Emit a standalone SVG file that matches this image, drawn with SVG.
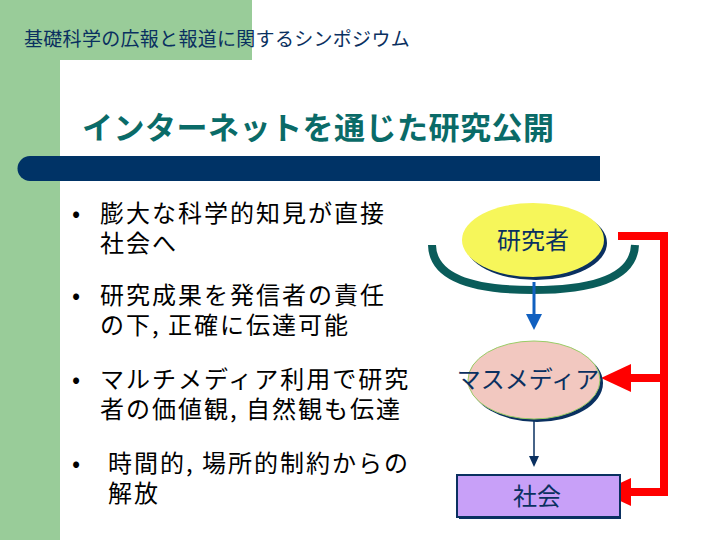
<svg xmlns="http://www.w3.org/2000/svg" width="720" height="540" viewBox="0 0 720 540">
<style>
.jp{font-family:"Noto Sans CJK JP","Liberation Sans",sans-serif}
.b{font-size:24px;fill:#000;letter-spacing:2px}
.n{font-size:24px;fill:#0a3060;text-anchor:middle}
</style>
<rect width="720" height="540" fill="#fff"/>
<rect x="0" y="0" width="252" height="60" fill="#99cc99"/>
<rect x="0" y="0" width="60" height="540" fill="#99cc99"/>
<rect x="60" y="60" width="660" height="480" rx="25" fill="#fff"/>
<rect x="60" y="100" width="660" height="440" fill="#fff"/>
<rect x="100" y="60" width="620" height="40" fill="#fff"/>
<text x="24" y="46" class="jp" font-size="19" fill="#0a3060" letter-spacing="0.3">基礎科学の広報と報道に関するシンポジウム</text>
<text x="82" y="139" class="jp" font-size="31" font-weight="bold" fill="#0a6b68" letter-spacing="0.5">インターネットを通じた研究公開</text>
<path d="M30 156 H600 V181 H30 A12.5 12.5 0 0 1 30 156 Z" fill="#003366"/>
<g class="jp b">
<text x="72" y="222">•</text><text x="100" y="222">膨大な科学的知見が直接</text><text x="100" y="252">社会へ</text>
<text x="72" y="304">•</text><text x="100" y="304">研究成果を発信者の責任</text><text x="100" y="334">の下, 正確に伝達可能</text>
<text x="72" y="388">•</text><text x="100" y="388">マルチメディア利用で研究</text><text x="100" y="418">者の価値観, 自然観も伝達</text>
<text x="72" y="472">•</text><text x="108" y="472">時間的, 場所的制約からの</text><text x="108" y="502">解放</text>
</g>
<g id="connectors">
<path d="M432 245 Q433 290 533 290 Q633 290 635 245" fill="none" stroke="#0a5c5a" stroke-width="8"/>
<line x1="534" y1="282" x2="534" y2="316" stroke="#1060c0" stroke-width="3"/>
<polygon points="526,314 542,314 534,330" fill="#1060c0"/>
<line x1="534" y1="420" x2="534" y2="458" stroke="#0a3060" stroke-width="1.5"/>
<polygon points="529,456 539,456 534,467" fill="#0a3060"/>
<path d="M618 236 H664 V492 H625 M664 378 H625" fill="none" stroke="#ff0000" stroke-width="8"/>
<polygon points="601,378 631,364 631,392" fill="#ff0000"/>
<polygon points="601,492 631,478 631,506" fill="#ff0000"/>
</g>
<g id="researcher">
<ellipse cx="536" cy="243" rx="71" ry="37" fill="#0a3060"/>
<ellipse cx="533" cy="240" rx="71" ry="37" fill="#f6f65a"/>
<text x="533" y="249" class="jp n">研究者</text>
</g>
<g id="media">
<ellipse cx="537" cy="383" rx="66" ry="39" fill="#0a3060"/>
<ellipse cx="534" cy="380" rx="66" ry="39" fill="#f2c8c0" stroke="#99cc66" stroke-width="1"/>
<text x="528" y="388" class="jp n" font-size="23">マスメディア</text>
</g>
<g id="society">
<rect x="457" y="475" width="163" height="42" fill="#c8a0f8" stroke="#0a3060" stroke-width="2"/>
<line x1="459" y1="518" x2="621" y2="518" stroke="#0a3060" stroke-width="2"/>
<text x="537" y="505" class="jp n">社会</text>
</g>
</svg>
